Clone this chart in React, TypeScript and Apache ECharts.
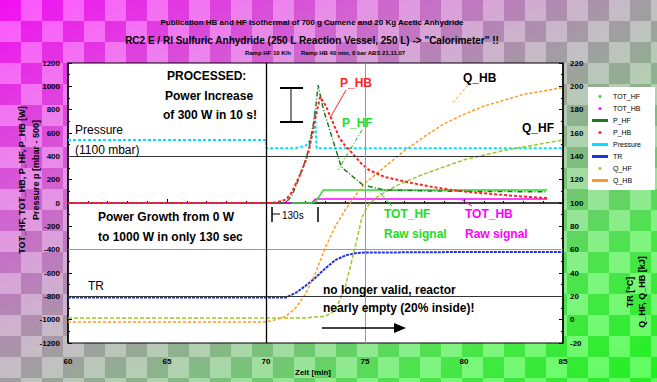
import React, { useEffect, useRef } from "react";
import * as echarts from "echarts";

// ---- data (x = time in minutes) ----
const titleLines = [
  "Publication HB and HF Isothermal of 700 g Cumene and 20 Kg Acetic Anhydride",
  "RC2 E / RI Sulfuric Anhydride (250 L Reaction Vessel, 250 L) -> \"Calorimeter\" !!",
  "Ramp HF 10 K/h      Ramp HB 40 min, 0 bar ABS 21.11.07",
];
const legendNames = ["TOT_HF", "TOT_HB", "P_HF", "P_HB", "Pressure", "TR", "Q_HF", "Q_HB"];

const pHB: [number, number][] = [
  [60, 0], [70, 0], [70.5, 5], [71, 28], [71.3, 90], [71.67, 223], [72.0, 360], [72.17, 454],
  [72.47, 711], [72.73, 909], [73.0, 840], [73.33, 711], [73.7, 560], [74.0, 490], [74.34, 430],
  [74.8, 340], [75.2, 283], [76.0, 223], [77.37, 171], [78.5, 135], [79.39, 111], [80.5, 90],
  [81.9, 70], [83, 55], [84.2, 43],
];
const pHF: [number, number][] = [
  [60, 0], [70, 0], [71, 2], [71.3, 60], [71.67, 214], [72.0, 370], [72.17, 471], [72.47, 754],
  [72.63, 1011], [72.9, 800], [73.33, 566], [73.8, 309], [74.9, 154], [76.0, 111], [78, 104],
  [80, 100], [82, 98], [84.2, 96],
];
const totHF: [number, number][] = [
  [71.3, 0], [72.3, 0], [72.5, 10], [72.9, 111], [75, 111], [80, 111], [84.2, 111],
];
const totHB: [number, number][] = [
  [60, 0], [72.3, 0], [72.5, 34], [78, 34], [84.2, 34],
];
const pressure: [number, number][] = [
  [60, 540], [70, 540], [70.02, 470], [71.5, 470], [72.0, 490], [72.25, 540], [72.4, 610],
  [72.47, 800], [72.55, 470], [78, 470], [85, 470],
];
const tr: [number, number][] = [
  [60, 19], [71, 19], [71.5, 23], [72, 29], [72.5, 36], [73, 44], [73.5, 51], [74, 55],
  [74.5, 57], [75, 57.5], [80, 58], [85, 58],
];
const qHF: [number, number][] = [
  [60, 1.5], [72, 1.5], [73, 3], [73.5, 8], [74, 28], [74.5, 62], [74.85, 88], [75.2, 99],
  [75.6, 105], [76, 109], [76.5, 114], [77, 118], [78, 125], [79, 131], [80, 137], [81, 141],
  [82, 145], [83, 148], [84, 151], [85, 154],
];
const qHB: [number, number][] = [
  [60, -2], [70, -2], [70.5, 0], [71, 3], [71.5, 10], [72, 22], [72.5, 40], [73, 62],
  [73.5, 80], [74, 94], [74.5, 106], [75, 117], [76, 131], [77, 145], [78, 157], [79, 168],
  [80, 176], [81, 183], [82, 188], [83, 193], [84, 196], [85, 199],
];
const gridY = [400, -400, -800];
const gridX = [70, 75];

const FONT = "Liberation Sans, Arial, sans-serif";

function txt(text: string, x: number, y: number, fill = "#000", size = 12, extra: any = {}) {
  return {
    type: "text",
    x,
    y,
    z: 100,
    style: { text, fill, fontSize: size, fontWeight: "bold", fontFamily: FONT, align: "left", verticalAlign: "middle", ...extra },
  };
}
function ln(x1: number, y1: number, x2: number, y2: number, stroke = "#000", lineWidth = 1, lineDash?: number[]) {
  return {
    type: "line",
    z: 100,
    shape: { x1, y1, x2, y2 },
    style: { stroke, lineWidth, lineDash },
  };
}

export default function App() {
  const ref = useRef<HTMLDivElement>(null);
  useEffect(() => {
    document.body.style.margin = "0";
    const chart = echarts.init(ref.current!, null, { renderer: "svg" });
    const mk = (name: string, data: any, color: string, lineStyle: any, yAxisIndex = 0, z = 3) => ({
      name,
      type: "line",
      data,
      yAxisIndex,
      showSymbol: false,
      symbol: "none",
      z,
      itemStyle: { color },
      lineStyle: { color, ...lineStyle },
    });
    const plain = (v: number) => String(v);
    const option: any = {
      animation: false,
      backgroundColor: "transparent",
      textStyle: { fontFamily: FONT },
      grid: { left: 68, right: 94, top: 63, bottom: 39, show: true, backgroundColor: "#fff", borderColor: "#000", borderWidth: 1 },
      legend: {
        data: legendNames.map((n, i) => ({ name: n, icon: [0, 1, 3, 6].includes(i) ? "circle" : "rect" })),
        orient: "vertical",
        left: 588,
        top: 87,
        itemWidth: 16,
        itemHeight: 3,
        itemGap: 5,
        padding: [6, 14, 6, 4],
        backgroundColor: "#fff",
        textStyle: { fontSize: 7, color: "#000", fontFamily: FONT },
      },
      xAxis: {
        type: "value",
        min: 60,
        max: 85,
        interval: 5,
        axisLine: { lineStyle: { color: "#000", width: 1.5 } },
        axisTick: { inside: true, length: 4, lineStyle: { color: "#000" } },
        minorTick: { show: true, splitNumber: 5, length: 2, lineStyle: { color: "#000" } },
        splitLine: { show: false },
        axisLabel: { fontSize: 8, fontWeight: "bold", color: "#000", margin: 14, formatter: plain },
      },
      yAxis: [
        {
          type: "value",
          min: -1200,
          max: 1200,
          interval: 200,
          axisLine: { show: true, lineStyle: { color: "#000", width: 1.5 } },
          axisTick: { inside: true, length: 4, lineStyle: { color: "#000" } },
          minorTick: { show: true, splitNumber: 2, length: 2, lineStyle: { color: "#000" } },
          splitLine: { show: false },
          axisLabel: { fontSize: 8, fontWeight: "bold", color: "#000", margin: 8, formatter: plain },
        },
        {
          type: "value",
          min: -20,
          max: 220,
          interval: 20,
          position: "right",
          axisLine: { show: true, lineStyle: { color: "#000", width: 1.5 } },
          axisTick: { inside: true, length: 4, lineStyle: { color: "#000" } },
          minorTick: { show: true, splitNumber: 2, length: 2, lineStyle: { color: "#000" } },
          splitLine: { show: false },
          axisLabel: { fontSize: 8, fontWeight: "bold", color: "#000", margin: 7, formatter: plain },
        },
      ],
      series: [
        {
          name: "grid",
          type: "line",
          data: [],
          z: 1,
          markLine: {
            silent: true,
            symbol: ["none", "none"],
            label: { show: false },
            lineStyle: { color: "#555", type: "solid", width: 1 },
            data: [
              ...gridY.map((v) => ({ yAxis: v, lineStyle: { color: v === -400 ? "#999" : "#333", type: "solid", width: 1 } })),
              ...gridX.map((v) => ({ xAxis: v, lineStyle: { color: v === 70 ? "#000" : "#999", type: "solid", width: v === 70 ? 1.3 : 1 } })),
            ],
          },
        },
        mk("TOT_HB", totHB, "#ff00ff", { width: 1.5 }, 0, 2),
        mk("TOT_HF", totHF, "#22e022", { width: 1.5 }, 0, 3),
        mk("Pressure", pressure, "#00e0ff", { width: 2, type: [3, 2] }, 0, 3),
        mk("TR", tr, "#2233dd", { width: 2, type: [3, 1] }, 1, 3),
        mk("Q_HF", qHF, "#99cc22", { width: 1.5, type: [4, 2] }, 1, 3),
        mk("Q_HB", qHB, "#ff9922", { width: 1.5, type: [3, 2] }, 1, 3),
        mk("P_HF", pHF, "#1e7a1e", { width: 1.5, type: [5, 2, 1, 2] }, 0, 4),
        mk("P_HB", pHB, "#ff2222", { width: 2, type: [3, 2] }, 0, 4),
      ],
      graphic: [
        txt(titleLines[0], 312, 22, "#000", 8, { align: "center" }),
        txt(titleLines[1], 312, 40, "#000", 10, { align: "center" }),
        txt(titleLines[2], 325, 53, "#000", 6, { align: "center" }),
        {
          type: "text",
          x: 22,
          y: 180,
          rotation: Math.PI / 2,
          style: { text: "TOT_HF, TOT_HB, P_HF, P_HB [W]", fontSize: 9, fontWeight: "bold", fontFamily: FONT, fill: "#000", align: "center", verticalAlign: "middle" },
        },
        {
          type: "text",
          x: 36,
          y: 170,
          rotation: Math.PI / 2,
          style: { text: "Pressure p [mbar - 500]", fontSize: 9, fontWeight: "bold", fontFamily: FONT, fill: "#000", align: "center", verticalAlign: "middle" },
        },
        {
          type: "text",
          x: 630,
          y: 292,
          rotation: Math.PI / 2,
          style: { text: "TR [°C]", fontSize: 9, fontWeight: "bold", fontFamily: FONT, fill: "#000", align: "center", verticalAlign: "middle" },
        },
        {
          type: "text",
          x: 642,
          y: 292,
          rotation: Math.PI / 2,
          style: { text: "Q_HF, Q_HB [kJ]", fontSize: 9, fontWeight: "bold", fontFamily: FONT, fill: "#000", align: "center", verticalAlign: "middle" },
        },
        txt("Zeit [min]", 313, 372, "#000", 8, { align: "center" }),
        txt("PROCESSED:", 167, 76, "#000", 12),
        txt("Power Increase", 165, 96, "#000", 12),
        txt("of 300 W in 10 s!", 163, 115, "#000", 12),
        ln(280, 88, 303, 88, "#000", 2),
        ln(291, 88, 291, 122, "#000", 1),
        ln(280, 122, 303, 122, "#000", 2),
        txt("P_HB", 340, 83, "#ff2222", 12),
        ln(346, 90, 330, 118, "#ff2222", 1),
        txt("P_HF", 342, 123, "#22dd22", 12),
        ln(362, 130, 338, 170, "#22aa22", 1, [4, 2, 1, 2]),
        txt("Q_HB", 463, 78, "#000", 12),
        ln(468, 85, 452, 104, "#ff9922", 1, [3, 2]),
        txt("Q_HF", 522, 128, "#000", 12),
        txt("Pressure", 75, 130, "#000", 12, { fontWeight: "normal" }),
        txt("(1100 mbar)", 75, 150, "#000", 12, { fontWeight: "normal" }),
        txt("Power Growth from 0 W", 98, 217, "#000", 12),
        txt("to 1000 W in only 130 sec", 98, 237, "#000", 12),
        ln(272, 207, 272, 222, "#000", 1.5),
        ln(318, 207, 318, 222, "#000", 1.5),
        ln(272, 214, 280, 214, "#000", 1),
        txt("130s", 282, 215, "#000", 10, { fontWeight: "normal" }),
        txt("TR", 88, 286, "#000", 12, { fontWeight: "normal" }),
        txt("TOT_HF", 384, 214, "#22dd22", 12),
        txt("Raw signal", 384, 234, "#22dd22", 12),
        ln(392, 206, 380, 193, "#22dd22", 1),
        txt("TOT_HB", 465, 214, "#ff00ff", 12),
        txt("Raw signal", 465, 234, "#ff00ff", 12),
        ln(472, 206, 462, 200, "#ff00ff", 1),
        txt("no longer valid, reactor", 323, 290, "#000", 12),
        txt("nearly empty (20% inside)!", 323, 308, "#000", 12),
        ln(322, 328, 396, 328, "#000", 1.5),
        { type: "polygon", z: 100, shape: { points: [[394, 323], [406, 328], [394, 333]] }, style: { fill: "#000" } },
      ],
    };
    chart.setOption(option);
    return () => chart.dispose();
  }, []);
  return (
    <div
      ref={ref}
      style={{
        position: "fixed",
        left: 0,
        top: 0,
        width: 657,
        height: 382,
        background:
          "repeating-conic-gradient(rgba(255,255,255,0.28) 0% 25%, rgba(0,0,0,0.05) 0% 50%) 0 0 / 42px 42px, linear-gradient(to bottom right, #ff10ff 0%, #dd66dd 28%, #b0a0b0 48%, #90c090 62%, #50f050 80%, #20ff20 100%)",
      }}
    />
  );
}
